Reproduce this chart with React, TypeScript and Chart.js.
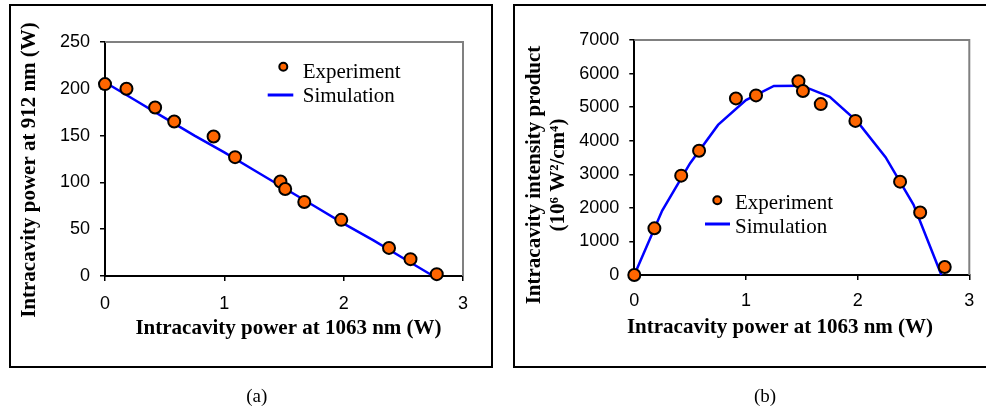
import React, { useEffect, useRef } from 'react';
import { Chart, registerables } from 'chart.js';

Chart.register(...registerables);

// ---------- data ----------
const xExperiment = [0, 0.18, 0.42, 0.58, 0.91, 1.09, 1.47, 1.51, 1.67, 1.98, 2.38, 2.56, 2.78];
const power912Experiment = [205, 200, 180, 165, 149, 127, 101, 93, 79, 60, 30, 18, 2];
const intensityExperiment = [0, 1390, 2960, 3700, 5260, 5350, 5770, 5480, 5090, 4590, 2780, 1860, 240];

const xSimulation = [0, 0.25, 0.5, 0.75, 1.0, 1.25, 1.5, 1.75, 2.0, 2.25, 2.5, 2.75];
const power912Simulation = [207, 188, 169, 150, 132, 113, 94, 75, 56, 38, 19, 0];
const intensitySimulation = [0, 1920, 3330, 4470, 5210, 5630, 5640, 5310, 4560, 3510, 2100, 0];

const xTicks = [0, 1, 2, 3];
const yTicksPower = [0, 50, 100, 150, 200, 250];
const yTicksIntensity = [0, 1000, 2000, 3000, 4000, 5000, 6000, 7000];

const labelExperiment = 'Experiment';
const labelSimulation = 'Simulation';
const xTitle = 'Intracavity power at 1063 nm (W)';
const yTitlePower = ['Intracavity power at 912 nm (W)'];
const yTitleIntensity = ['Intracavity intensity product', '(10\u2076 W\u00B2/cm\u2074)'];
const captionA = '(a)';
const captionB = '(b)';

// ---------- styles ----------
const ORANGE = '#FF6600';
const BLUE = '#0000FF';
const SANS = '"Liberation Sans", Arial, sans-serif';
const SERIF = '"Liberation Serif", "Times New Roman", serif';
const H = 409;

type Area = { left: number; top: number; right: number; bottom: number };
type Layout = {
  width: number;
  area: Area;
  xTickPad: number;
  xTitle: { x: number; y: number };
  yTitle: { x: number; y: number; step: number };
  legend: { mx: number; my: number; lx1: number; lx2: number; ly: number; tx: number; b1: number; b2: number };
};

function ChartPanel(props: {
  left: number;
  layout: Layout;
  yExp: number[];
  ySim: number[];
  yTicks: number[];
  yTitle: string[];
}) {
  const ref = useRef<HTMLCanvasElement | null>(null);
  useEffect(() => {
    const { layout, yExp, ySim, yTicks, yTitle } = props;
    const { area, width } = layout;
    const yMax = yTicks[yTicks.length - 1];

    const framePlugin = {
      id: 'frame',
      beforeDatasetsDraw(chart: any) {
        const { ctx, chartArea } = chart;
        ctx.save();
        ctx.strokeStyle = '#808080';
        ctx.lineWidth = 2;
        ctx.beginPath();
        ctx.moveTo(chartArea.left, chartArea.top);
        ctx.lineTo(chartArea.right, chartArea.top);
        ctx.lineTo(chartArea.right, chartArea.bottom);
        ctx.stroke();
        ctx.restore();
      },
    };

    const textPlugin = {
      id: 'texts',
      afterDraw(chart: any) {
        const ctx = chart.ctx;
        const ds = chart.data.datasets;
        const lg = layout.legend;
        ctx.save();
        // legend
        ctx.beginPath();
        ctx.arc(lg.mx, lg.my, 4, 0, Math.PI * 2);
        ctx.fillStyle = ds[0].backgroundColor;
        ctx.fill();
        ctx.lineWidth = 2;
        ctx.strokeStyle = ds[0].borderColor;
        ctx.stroke();
        ctx.beginPath();
        ctx.moveTo(lg.lx1, lg.ly);
        ctx.lineTo(lg.lx2, lg.ly);
        ctx.strokeStyle = ds[1].borderColor;
        ctx.lineWidth = 3;
        ctx.stroke();
        ctx.fillStyle = '#000';
        ctx.font = `21px ${SERIF}`;
        ctx.textAlign = 'left';
        ctx.textBaseline = 'alphabetic';
        ctx.fillText(ds[0].label, lg.tx, lg.b1);
        ctx.fillText(ds[1].label, lg.tx, lg.b2);
        // axis titles
        ctx.font = `bold 21px ${SERIF}`;
        ctx.textAlign = 'center';
        ctx.fillText(xTitle, layout.xTitle.x, layout.xTitle.y);
        yTitle.forEach((t, i) => {
          ctx.save();
          ctx.translate(layout.yTitle.x + i * layout.yTitle.step, layout.yTitle.y);
          ctx.rotate(-Math.PI / 2);
          ctx.fillText(t, 0, 0);
          ctx.restore();
        });
        ctx.restore();
      },
    };

    const chart = new Chart(ref.current as HTMLCanvasElement, {
      type: 'scatter',
      data: {
        datasets: [
          {
            label: labelExperiment,
            data: xExperiment.map((x, i) => ({ x, y: yExp[i] })),
            backgroundColor: ORANGE,
            borderColor: '#000',
            borderWidth: 2,
            pointRadius: 6,
            pointHoverRadius: 6,
            clip: false,
            order: 0,
          } as any,
          {
            type: 'line',
            label: labelSimulation,
            data: xSimulation.map((x, i) => ({ x, y: ySim[i] })),
            borderColor: BLUE,
            backgroundColor: BLUE,
            borderWidth: 2.5,
            pointRadius: 0,
            showLine: true,
            fill: false,
            tension: 0,
            clip: false,
            order: 1,
          } as any,
        ],
      },
      options: {
        animation: false,
        responsive: false,
        events: [],
        layout: { padding: { top: area.top, right: width - area.right, bottom: 0, left: 0 } },
        plugins: { legend: { display: false }, tooltip: { enabled: false } },
        scales: {
          x: {
            type: 'linear',
            min: 0,
            max: 3,
            afterBuildTicks: (s: any) => {
              s.ticks = xTicks.map((v) => ({ value: v }));
            },
            afterFit: (s: any) => {
              s.height = H - area.bottom;
            },
            grid: { drawOnChartArea: false, drawTicks: true, tickLength: 5, color: '#000', lineWidth: 1.5 },
            border: { display: true, color: '#000', width: 2 },
            ticks: {
              color: '#000',
              font: { size: 18, family: SANS },
              padding: layout.xTickPad,
              maxRotation: 0,
              callback: (v: any) => String(v),
            },
          },
          y: {
            type: 'linear',
            min: 0,
            max: yMax,
            afterBuildTicks: (s: any) => {
              s.ticks = yTicks.map((v) => ({ value: v }));
            },
            afterFit: (s: any) => {
              s.width = area.left;
            },
            grid: { drawOnChartArea: false, drawTicks: true, tickLength: 5, color: '#000', lineWidth: 1.5 },
            border: { display: true, color: '#000', width: 2 },
            ticks: {
              color: '#000',
              font: { size: 18, family: SANS },
              padding: 10,
              callback: (v: any) => String(v),
            },
          },
        },
      } as any,
      plugins: [framePlugin, textPlugin],
    });
    return () => chart.destroy();
  }, []);
  return (
    <canvas
      ref={ref}
      width={props.layout.width}
      height={H}
      style={{ position: 'absolute', left: props.left, top: 0, width: props.layout.width, height: H }}
    />
  );
}

const layoutA: Layout = {
  width: 500,
  area: { left: 105, top: 42, right: 463, bottom: 276 },
  xTickPad: 12,
  xTitle: { x: 288.5, y: 334.3 },
  yTitle: { x: 34.5, y: 170, step: 0 },
  legend: { mx: 283.3, my: 66.7, lx1: 267.7, lx2: 293.3, ly: 95, tx: 302.7, b1: 78.3, b2: 102.3 },
};

const layoutB: Layout = {
  width: 486,
  area: { left: 134.3, top: 40, right: 469.3, bottom: 275 },
  xTickPad: 10,
  xTitle: { x: 280, y: 333.3 },
  yTitle: { x: 40.3, y: 175, step: 23.2 },
  legend: { mx: 217.3, my: 200.3, lx1: 205, lx2: 230, ly: 224, tx: 235, b1: 209.3, b2: 233.3 },
};

export default function App() {
  const caption = (text: string, cx: number) => (
    <div
      style={{
        position: 'absolute',
        left: cx - 50,
        width: 100,
        top: 385.6,
        textAlign: 'center',
        fontFamily: SERIF,
        fontSize: 19,
        lineHeight: '19px',
        color: '#000',
      }}
    >
      {text}
    </div>
  );
  return (
    <div
      style={{
        position: 'fixed',
        left: 0,
        top: 0,
        width: 986,
        height: H,
        overflow: 'hidden',
        background: '#fff',
      }}
    >
      <div style={{ position: 'absolute', left: 9, top: 4, width: 484, height: 364, boxSizing: 'border-box', border: '2px solid #000' }} />
      <div style={{ position: 'absolute', left: 513, top: 4, width: 520, height: 364, boxSizing: 'border-box', border: '2px solid #000' }} />
      <ChartPanel left={0} layout={layoutA} yExp={power912Experiment} ySim={power912Simulation} yTicks={yTicksPower} yTitle={yTitlePower} />
      <ChartPanel left={500} layout={layoutB} yExp={intensityExperiment} ySim={intensitySimulation} yTicks={yTicksIntensity} yTitle={yTitleIntensity} />
      {caption(captionA, 256.7)}
      {caption(captionB, 765)}
    </div>
  );
}
